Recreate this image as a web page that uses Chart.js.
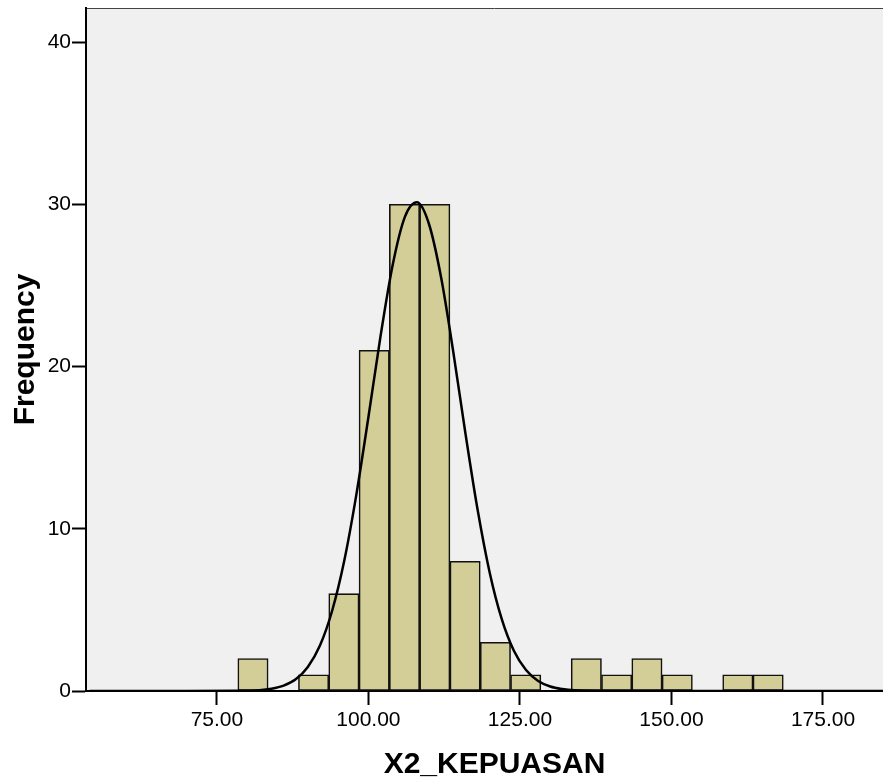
<!DOCTYPE html>
<html>
<head>
<meta charset="utf-8">
<script src="https://cdn.jsdelivr.net/npm/chart.js@4.4.1/dist/chart.umd.min.js"></script>
<style>
    html, body { margin: 0; padding: 0; background: #fff; overflow: hidden; }
    #wrap { width: 904px; height: 784px; }
</style>
</head>
<body>
<div id="wrap"><canvas id="hist"></canvas></div>
<script>
// histogram bins (centre of each 5-wide bin) and counts
const binCenters = [80.95, 85.95, 90.95, 95.95, 100.95, 105.95, 110.95, 115.95, 120.95,
    125.95, 130.95, 135.95, 140.95, 145.95, 150.95, 155.95, 160.95, 165.95];
const counts = [2, 0, 1, 6, 21, 30, 30, 8, 3, 1, 0, 2, 1, 2, 1, 0, 1, 1];

// normal curve
const curveX = [54, 70, 78, 82, 84, 86, 88, 90, 92, 94, 96, 98, 100, 102, 104, 106, 108,
    110, 112, 114, 116, 118, 120, 122, 124, 126, 128, 130, 132, 134, 138, 150, 188];
const curveY = [0, 0, 0.01, 0.05, 0.14, 0.33, 0.72, 1.48, 2.8, 4.93, 8.01, 12.09, 16.89,
    21.88, 26.26, 29.21, 30.12, 28.77, 25.47, 20.9, 15.89, 11.2, 7.31, 4.43, 2.48, 1.29,
    0.62, 0.28, 0.12, 0.04, 0, 0, 0];

const xTickValues = [75, 100, 125, 150, 175];
const yTickValues = [0, 10, 20, 30, 40];

const fontFamily = "'Liberation Sans', Arial, sans-serif";

const plotBackground = {
    id: 'plotBackground',
    beforeDraw(chart) {
        const { ctx, chartArea } = chart;
        ctx.save();
        ctx.fillStyle = '#f0f0f0';
        ctx.fillRect(chartArea.left, chartArea.top, chartArea.right - chartArea.left, chartArea.bottom - chartArea.top);
        ctx.strokeStyle = '#444';
        ctx.lineWidth = 1;
        ctx.beginPath();
        ctx.moveTo(chartArea.left, chartArea.top + 0.5);
        ctx.lineTo(chartArea.right, chartArea.top + 0.5);
        ctx.stroke();
        ctx.restore();
    }
};

new Chart(document.getElementById('hist').getContext('2d'), {
    type: 'bar',
    data: {
        datasets: [
            {
                type: 'line',
                label: 'Normal',
                data: curveX.map((x, i) => ({ x: x, y: curveY[i] })),
                borderColor: '#000',
                borderWidth: 2.5,
                pointRadius: 0,
                cubicInterpolationMode: 'monotone',
                fill: false,
                order: 0
            },
            {
                type: 'bar',
                label: 'Frequency',
                data: binCenters.map((x, i) => ({ x: x, y: counts[i] })),
                backgroundColor: 'rgb(211, 206, 151)',
                borderColor: '#111',
                borderWidth: 1.6,
                borderSkipped: false,
                barPercentage: 1,
                categoryPercentage: 1,
                order: 1
            }
        ]
    },
    options: {
        responsive: true,
        maintainAspectRatio: false,
        animation: false,
        layout: { padding: { top: 8, right: 1, left: 0, bottom: 0 } },
        plugins: {
            legend: { display: false },
            tooltip: { enabled: false }
        },
        scales: {
            x: {
                type: 'linear',
                offset: false,
                min: 53.4,
                max: 188.2,
                afterBuildTicks: scale => { scale.ticks = xTickValues.map(v => ({ value: v })); },
                afterFit: scale => { scale.height = 93; },
                grid: { offset: false, drawOnChartArea: false, tickLength: 14, tickWidth: 2, tickColor: '#000' },
                border: { display: true, color: '#000', width: 2 },
                ticks: {
                    color: '#000',
                    padding: 3,
                    maxRotation: 0,
                    font: { family: fontFamily, size: 21 },
                    callback: v => v.toFixed(2)
                },
                title: {
                    display: true,
                    text: 'X2_KEPUASAN',
                    color: '#000',
                    padding: { top: 0, bottom: 1 },
                    font: { family: fontFamily, size: 30, weight: 'bold' }
                }
            },
            y: {
                min: 0,
                max: 42.1,
                afterBuildTicks: scale => { scale.ticks = yTickValues.map(v => ({ value: v })); },
                afterFit: scale => {
                    scale.width = 86;
                    // the 40 label sits well below the top, no extra room needed
                    scale.paddingTop = 0;
                },
                grid: { drawOnChartArea: false, tickLength: 14, tickWidth: 2, tickColor: '#000' },
                border: { display: true, color: '#000', width: 2 },
                ticks: {
                    color: '#000',
                    padding: 1,
                    font: { family: fontFamily, size: 21 }
                },
                title: {
                    display: true,
                    text: 'Frequency',
                    color: '#000',
                    padding: { top: 8, bottom: 0 },
                    font: { family: fontFamily, size: 30, weight: 'bold' }
                }
            }
        }
    },
    plugins: [plotBackground]
});
</script>
</body>
</html>
